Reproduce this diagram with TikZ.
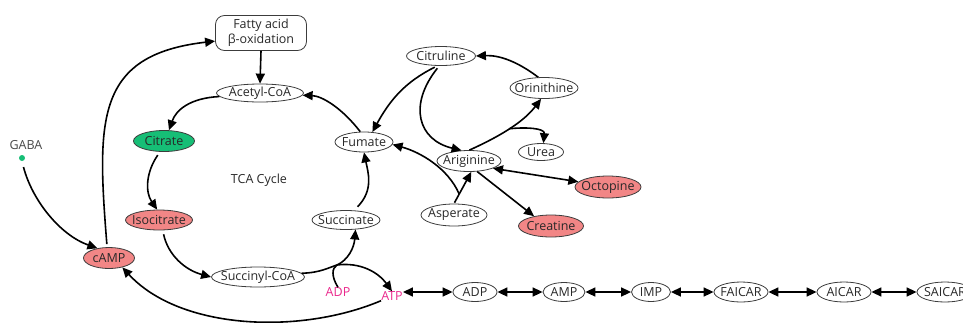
\documentclass[tikz,border=0pt]{standalone}
\usepackage{fontspec}
\setmainfont{Open Sans}
\usetikzlibrary{arrows.meta,shapes.geometric}
\definecolor{cgreen}{RGB}{22,190,118}
\definecolor{cpink}{RGB}{242,134,134}
\definecolor{cmag}{RGB}{234,40,140}
\definecolor{cline}{RGB}{60,60,60}
\definecolor{ctext}{RGB}{40,40,40}
\newcommand\zb[1]{\makebox[0pt]{#1}}
\begin{document}
\begin{tikzpicture}[x=1pt,y=-1pt,
  font=\fontsize{12.5}{13}\selectfont,
  met/.style={ellipse,draw=cline,line width=0.8pt,inner sep=0pt,text=ctext,minimum height=19pt},
  grn/.style={met,fill=cgreen},
  pnk/.style={met,fill=cpink},
  lbl/.style={inner sep=0pt,text=cmag,font=\fontsize{12.5}{13}\selectfont},
  arr/.style={line width=1.6pt,-{Triangle[length=10pt,width=9pt]}},
  darr/.style={line width=1.6pt,{Triangle[length=10pt,width=9pt]}-{Triangle[length=10pt,width=9pt]}},
  plain/.style={line width=1.6pt}]
\useasboundingbox (0,0) rectangle (963,322);
% nodes
\node[draw=cline,line width=0.8pt,rounded corners=9pt,minimum width=91pt,minimum height=35pt,inner sep=0pt,align=center,text=ctext,font=\fontsize{12.5}{15}\selectfont] (fatty) at (261,33) {Fatty acid\\β-oxidation};
\node[met,minimum width=87pt,minimum height=18pt] (acetyl) at (260,93) {\zb{Acetyl-CoA}};
\node[grn,minimum width=61pt,minimum height=21pt] (citrate) at (164,141) {\zb{Citrate}};
\node[pnk,minimum width=67pt,minimum height=20pt] (isocitrate) at (159,220) {\zb{Isocitrate}};
\node[pnk,minimum width=51pt,minimum height=21pt] (camp) at (109,258) {\zb{cAMP}};
\node[met,minimum width=93pt,minimum height=20pt] (succinyl) at (258,277) {\zb{Succinyl-CoA}};
\node[met,minimum width=68pt,minimum height=19pt] (succinate) at (346,220) {\zb{Succinate}};
\node[met,minimum width=58pt,minimum height=20pt] (fumate) at (364,142) {\zb{Fumate}};
\node[inner sep=0pt,text=ctext] (tca) at (259,180) {TCA Cycle};
\node[inner sep=0pt,text=ctext!85] (gaba) at (26,145) {GABA};
\node[circle,fill=cgreen,inner sep=0pt,minimum size=6pt] (gdot) at (22,158) {};
\node[met,minimum width=69pt,minimum height=19pt] (citruline) at (441,56) {\zb{Citruline}};
\node[met,minimum width=68pt,minimum height=21pt] (orinithine) at (544,88) {\zb{Orinithine}};
\node[met,minimum width=45pt,minimum height=17pt] (urea) at (541,152) {\zb{Urea}};
\node[met,minimum width=64pt,minimum height=21pt] (ariginine) at (469,161) {\zb{Ariginine}};
\node[met,minimum width=66pt,minimum height=22pt] (asperate) at (454,215) {\zb{Asperate}};
\node[pnk,minimum width=66pt,minimum height=22pt] (octopine) at (608,187) {\zb{Octopine}};
\node[pnk,minimum width=65pt,minimum height=22pt] (creatine) at (551,226) {\zb{Creatine}};
\node[lbl] (adpt) at (338,292) {ADP};
\node[lbl] (atpt) at (392,296) {ATP};
\node[met,minimum width=44pt] (adp) at (475,292) {\zb{ADP}};
\node[met,minimum width=42pt] (amp) at (564,292) {\zb{AMP}};
\node[met,minimum width=39pt] (imp) at (651,292) {\zb{IMP}};
\node[met,minimum width=54pt,minimum height=20pt] (faicar) at (741,292) {\zb{FAICAR}};
\node[met,minimum width=54pt,minimum height=20pt] (aicar) at (844,292) {\zb{AICAR}};
\node[met,minimum width=56pt,minimum height=20pt] (saicar) at (945,292) {\zb{SAICAR}};
% TCA
\draw[arr] (fatty.south) -- (acetyl.north);
\draw[arr] (acetyl.185) .. controls (190,98) and (176,110) .. (citrate.65);
\draw[arr,shorten <=4pt] (citrate.250) .. controls (146,172) and (145,192) .. (isocitrate.100);
\draw[arr,shorten <=4pt] (isocitrate.-70) .. controls (168,255) and (185,270) .. (succinyl.180);
\coordinate (j) at (337,265);
\draw[arr] (succinyl.5) .. controls (320,273) and (330,267) .. (j) .. controls (348,260) and (354,248) .. (succinate.-45);
\draw[plain] (adpt.north) .. controls (331,276) and (332,268) .. (j);
\draw[arr] (j) .. controls (360,262) and (378,272) .. (atpt.north);
\draw[arr,shorten <=5pt] (succinate.50) .. controls (374,190) and (368,172) .. (fumate.south);
\draw[arr] (fumate.110) .. controls (342,108) and (322,96) .. (acetyl.-3);
% urea cycle
\draw[arr,shorten <=3pt] (citruline.-110) .. controls (405,82) and (390,100) .. (fumate.50);
\draw[arr,shorten <=3pt] (citruline.-100) .. controls (408,105) and (418,140) .. (ariginine.125);
\draw[arr] (ariginine.88) .. controls (505,134) and (525,120) .. coordinate[pos=0.45] (u) (orinithine.-105);
\draw[arr] (u) .. controls (525,127) and (545,128) .. (urea.75);
\draw[arr] (orinithine.118) .. controls (518,62) and (500,55) .. (citruline.east);
\draw[arr,shorten <=1pt] (asperate.north) -- coordinate[pos=0.3] (b) (ariginine.-78);
\draw[arr] (b) .. controls (448,168) and (420,152) .. (fumate.-5);
\draw[darr] (ariginine.-17) -- (octopine.170);
\draw[arr] (ariginine.-52) -- (creatine.150);
% cAMP
\draw[arr,shorten <=3pt] (camp.100) .. controls (97,120) and (95,55) .. (fatty.190);
\draw[arr,shorten <=6pt] (gdot.south) .. controls (32,200) and (60,235) .. (camp.140);
\draw[arr] (atpt.south west) .. controls (300,335) and (180,330) .. (camp.-35);
% chain
\draw[darr] (atpt.east |- adp.west) -- (adp.west);
\draw[darr] (adp.east) -- (amp.west);
\draw[darr] (amp.east) -- (imp.west);
\draw[darr] (imp.east) -- (faicar.west);
\draw[darr] (faicar.east) -- (aicar.west);
\draw[darr] (aicar.east) -- (saicar.west);
\end{tikzpicture}
\end{document}
